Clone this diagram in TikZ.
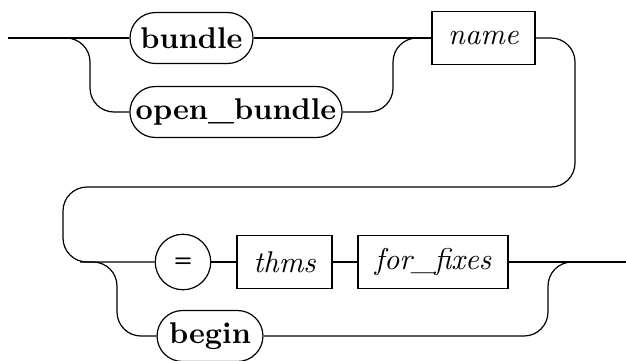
\documentclass[tikz,border=0pt]{standalone}
\begin{document}
\begin{tikzpicture}[x=0.3333pt,y=-0.3333pt,
        terminal/.style={draw, rounded corners=8.5pt, minimum height=17pt, inner sep=0pt, font=\bfseries},
        nonterm/.style={draw, minimum height=17.7pt, inner sep=0pt, font=\itshape},
        termcircle/.style={draw, circle, minimum size=18.5pt, inner sep=0pt, font=\sffamily\bfseries\scriptsize},
        rail/.style={rounded corners=8pt}]
        \useasboundingbox (0,0) rectangle (626,360);

        % first row
        \node [terminal, minimum width=41pt] (bundle) at (191.5,38) {bundle};
        \node [terminal, minimum width=70.7pt] (openbundle) at (236,112) {open\_bundle};
        \node [nonterm, minimum width=34.3pt] (name) at (483.5,38) {name};
        \coordinate (start) at (8,38);

        \draw (start) -- (bundle);
        \draw [rail] (start) -| (90,112) -- (openbundle.west);
        \draw (bundle) -- (name);
        \draw [rail] (openbundle.east) -| (393,38) -- (name.west);

        % second row
        \node [termcircle] (eq) at (183,262) {=};
        \node [nonterm, minimum width=31.7pt] (thms) at (284.5,262) {thms};
        \node [nonterm, minimum width=50pt] (fixes) at (433,262) {for\_fixes};
        \node [terminal, minimum width=35.3pt] (begin) at (210,336) {begin};
        \coordinate (split) at (80,262);
        \coordinate (stop) at (626,262);

        \draw [rail] (name.east) -| (575,187) -| (63,262) -- (eq.west);
        \draw [rail] (split) -| (117,336) -- (begin.west);
        \draw (eq) -- (thms);
        \draw (thms) -- (fixes);
        \draw (fixes) -- (stop);
        \draw [rail] (begin.east) -| (548,262) -- (stop);
    \end{tikzpicture}
\end{document}
